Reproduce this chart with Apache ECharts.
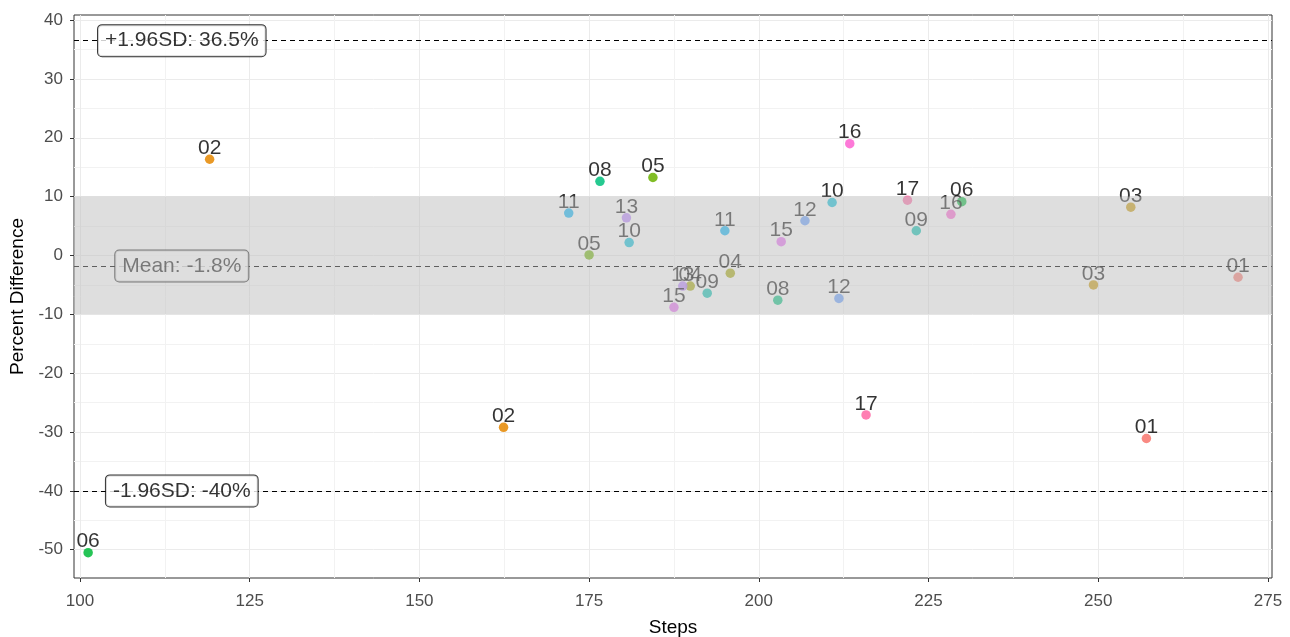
<!DOCTYPE html>
<html>
<head>
<meta charset="utf-8">
<script src="https://cdn.jsdelivr.net/npm/echarts@6/dist/echarts.min.js"></script>
<style>html,body{margin:0;padding:0;background:#fff;}#chart{width:1290px;height:637px;}</style>
</head>
<body>
<div id="chart"></div>
<script>
// ---- data ----
const subject = ['01','01','02','02','03','03','04','04','05','05','06','06','08','08','09','09','10','10','11','11','12','12','13','13','15','15','16','16','17','17'];
const steps   = [270.6,257.1,119.1,162.4,254.8,249.3,189.9,195.8,184.4,175.0,229.9,101.2,176.6,202.8,223.2,192.4,180.9,210.8,172.0,195.0,206.8,211.8,180.5,188.8,203.3,187.5,213.4,228.3,221.9,215.8];
const pctDiff = [-3.7,-31.1,16.35,-29.2,8.2,-5.0,-5.2,-3.0,13.25,0.1,9.15,-50.5,12.6,-7.6,4.2,-6.4,2.2,9.0,7.2,4.2,5.9,-7.3,6.4,-5.2,2.35,-8.8,19.0,7.0,9.4,-27.1];
const subjectLevels = ['01','02','03','04','05','06','08','09','10','11','12','13','15','16','17'];
const subjectColors = ['#F8766D','#E58700','#C99800','#A3A500','#6BB100','#00BA38','#00BF7D','#00C0AF','#00BCD8','#00B0F6','#619CFF','#B983FF','#E76BF3','#FD61D1','#FF67A4'];
const meanDiff = -1.8;
const upperLoA = 36.5;
const lowerLoA = -40;
const bandLow = -10;
const bandHigh = 10;
const refLabelX = 115;
const refLabels = ['+1.96SD: 36.5%','Mean: -1.8%','-1.96SD: -40%'];
const xTicks = [100,125,150,175,200,225,250,275];
const xMinor = [112.5,137.5,162.5,187.5,212.5,237.5,262.5];
const yTicks = [-50,-40,-30,-20,-10,0,10,20,30,40];
const yMinor = [-55,-45,-35,-25,-15,-5,5,15,25,35];
const xRange = [99.12, 275.6];
const yRange = [-54.8, 40.86];

// ---- chart ----
const FONT = 'Liberation Sans, Arial, sans-serif';
const chart = echarts.init(document.getElementById('chart'), null, {renderer:'canvas'});
const colorOf = s => subjectColors[subjectLevels.indexOf(s)];
const pts = steps.map((s,i)=>({name: subject[i], value:[s, pctDiff[i]], itemStyle:{color: colorOf(subject[i])}}));
const ptLabels = steps.map((s,i)=>({name: subject[i], value:[s, pctDiff[i]]}));

const refBox = (text, y) => ({
  value:[refLabelX, y],
  label:{formatter:text}
});
const refLabelStyle = {
  show:true, position:'inside', color:'#000', fontFamily:FONT, fontSize:21,
  backgroundColor:'#fff', borderColor:'#000', borderWidth:1, borderRadius:4,
  padding:[5,7,5,7]
};

chart.setOption({
  animation:false,
  backgroundColor:'#fff',
  grid:{left:74, top:15, width:1198, height:563, show:true, borderColor:'#333', borderWidth:1,
        backgroundColor:'transparent', containLabel:false, outerBoundsMode:'none'},
  xAxis:[
    {type:'value', min:xRange[0], max:xRange[1], position:'bottom',
      name:'Steps', nameLocation:'middle', nameGap:40,
      nameTextStyle:{color:'#000', fontFamily:FONT, fontSize:19},
      axisLine:{show:false, onZero:false},
      axisTick:{show:true, length:4, lineStyle:{color:'#333'}, customValues:xTicks},
      axisLabel:{color:'#4d4d4d', fontFamily:FONT, fontSize:17, margin:15, customValues:xTicks},
      splitLine:{show:true, lineStyle:{color:'#ebebeb', width:1}}},
    {type:'value', min:xRange[0], max:xRange[1], position:'bottom',
      axisLine:{show:false, onZero:false}, axisLabel:{show:false}, axisTick:{show:false, customValues:xMinor},
      splitLine:{show:true, lineStyle:{color:'#f2f2f2', width:1}}}
  ],
  yAxis:[
    {type:'value', min:yRange[0], max:yRange[1], position:'left',
      name:'Percent Difference', nameLocation:'middle', nameGap:47, nameRotate:90,
      nameTextStyle:{color:'#000', fontFamily:FONT, fontSize:19},
      axisLine:{show:false, onZero:false},
      axisTick:{show:true, length:4, lineStyle:{color:'#333'}, customValues:yTicks},
      axisLabel:{color:'#4d4d4d', fontFamily:FONT, fontSize:17, margin:11, customValues:yTicks},
      splitLine:{show:true, lineStyle:{color:'#ebebeb', width:1}}},
    {type:'value', min:yRange[0], max:yRange[1], position:'left',
      axisLine:{show:false, onZero:false}, axisLabel:{show:false}, axisTick:{show:false, customValues:yMinor},
      splitLine:{show:true, lineStyle:{color:'#f2f2f2', width:1}}}
  ],
  series:[
    { // mean line (under band)
      type:'line', data:[], z:2, silent:true,
      markLine:{silent:true, z:2, symbol:'none', label:{show:false},
        lineStyle:{color:'#000', type:[5,4], width:1},
        data:[{yAxis:meanDiff}]}
    },
    { // mean label (under band)
      type:'scatter', z:2.5, silent:true, symbolSize:1, itemStyle:{color:'rgba(0,0,0,0)'},
      label:refLabelStyle,
      data:[refBox(refLabels[1], meanDiff)]
    },
    { // points
      type:'scatter', z:3, symbolSize:9.5, itemStyle:{opacity:0.85}, silent:true,
      label:{show:false},
      data:pts
    },
    { // point labels
      type:'scatter', z:4, symbolSize:1, silent:true, itemStyle:{color:'rgba(0,0,0,0)'},
      label:{show:true, position:'top', distance:0, formatter:'{b}', color:'#000', fontFamily:FONT, fontSize:21},
      data:ptLabels
    },
    { // band
      type:'line', data:[], z:8, silent:true,
      markArea:{silent:true, z:8, itemStyle:{color:'rgba(190,190,190,0.5)'},
        data:[[{yAxis:bandLow},{yAxis:bandHigh}]]}
    },
    { // limits of agreement
      type:'line', data:[], z:9, silent:true,
      markLine:{silent:true, z:9, symbol:'none', label:{show:false},
        lineStyle:{color:'#000', type:[5,4], width:1},
        data:[{yAxis:upperLoA},{yAxis:lowerLoA}]}
    },
    { // LoA labels
      type:'scatter', z:10, silent:true, symbolSize:1, itemStyle:{color:'rgba(0,0,0,0)'},
      label:refLabelStyle,
      data:[refBox(refLabels[0], upperLoA), refBox(refLabels[2], lowerLoA)]
    }
  ]
});
</script>
</body>
</html>
